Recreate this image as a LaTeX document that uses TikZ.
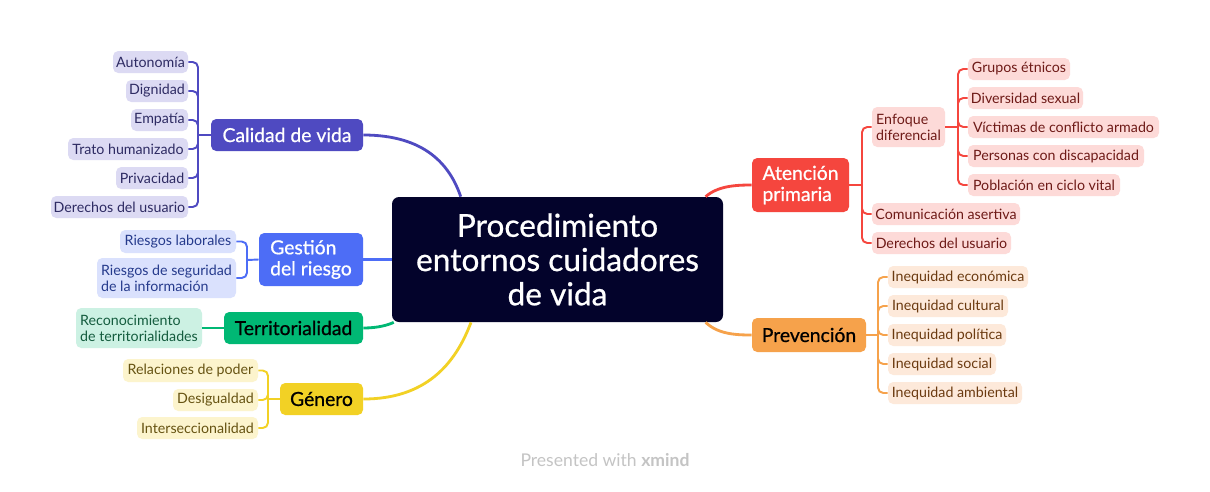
\documentclass[tikz,border=0pt]{standalone}
\usepackage{fontspec}
\setmainfont{Lato}
\newfontfamily\medfont{Lato}[FakeBold=0.7]
\definecolor{cen}{HTML}{03032B}
\definecolor{cq}{HTML}{4F4AC1}\definecolor{cql}{HTML}{DCDAF3}\definecolor{cqt}{HTML}{2E2B63}
\definecolor{gq}{HTML}{4D6DF6}\definecolor{gql}{HTML}{DAE1FD}\definecolor{gqt}{HTML}{253A8C}
\definecolor{tq}{HTML}{00B874}\definecolor{tql}{HTML}{CCF1E3}\definecolor{tqt}{HTML}{145C3E}
\definecolor{yq}{HTML}{F2D125}\definecolor{yql}{HTML}{FCF4CD}\definecolor{yqt}{HTML}{665312}
\definecolor{rq}{HTML}{F5463E}\definecolor{rql}{HTML}{FDDAD8}\definecolor{rqt}{HTML}{6E1A17}
\definecolor{oq}{HTML}{F6A24B}\definecolor{oql}{HTML}{FDE9DA}\definecolor{oqt}{HTML}{6B3A10}
\definecolor{wmg}{HTML}{C4C4C4}
\tikzset{
 bxy/.style n args={4}{minimum width={(#3-#1)*0.02cm}, minimum height={(#4-#2)*0.02cm}, at={({(#1+#3)/2},{(#2+#4)/2})}},
 leaf/.style={rounded corners=3pt, inner sep=0pt, font=\fontsize{8.1}{9}\selectfont, align=left},
 topic/.style={rounded corners=3pt, inner sep=0pt, font=\medfont\fontsize{11}{12}\selectfont, align=left},
 mainln/.style={line width=1.6pt},
 br/.style={line width=1.1pt, rounded corners=3pt},
}
\begin{document}
\begin{tikzpicture}[x=0.02cm,y=-0.02cm]
\useasboundingbox[fill=white] (0,0) rectangle (1210,491);
% central
\node[rounded corners=4pt, fill=cen, text=white, inner sep=0pt, align=center,
  font=\medfont\fontsize{18}{19.5}\selectfont, bxy={392}{197}{723}{322}] (c)
  {Procedimiento\\entornos cuidadores\\de vida};
% Calidad de vida
\node[topic, fill=cq, text=white, bxy={211}{119}{363}{151}] (cal) {Calidad de vida};
\node[leaf, fill=cql, text=cqt, bxy={113}{51}{188}{73}] (a1) {Autonomía};
\node[leaf, fill=cql, text=cqt, bxy={126}{80}{188}{102}] (a2) {Dignidad};
\node[leaf, fill=cql, text=cqt, bxy={131}{109}{188}{131}] (a3) {Empatía};
\node[leaf, fill=cql, text=cqt, bxy={68}{138}{188}{160}] (a4) {Trato humanizado};
\node[leaf, fill=cql, text=cqt, bxy={116}{167}{188}{189}] (a5) {Privacidad};
\node[leaf, fill=cql, text=cqt, bxy={51}{196}{188}{218}] (a6) {Derechos del usuario};
% Gestion
\node[topic, fill=gq, text=white, bxy={259}{233}{363}{286}] (ges) {Gestión\\del riesgo};
\node[leaf, fill=gql, text=gqt, bxy={120}{230}{236}{253}] (b1) {Riesgos laborales};
\node[leaf, fill=gql, text=gqt, bxy={97}{258}{236}{298}] (b2) {Riesgos de seguridad\\de la información};
% Territorialidad
\node[topic, fill=tq, text=black, bxy={224}{312}{363}{344}] (ter) {Territorialidad};
\node[leaf, fill=tql, text=tqt, bxy={76}{308}{202}{348}] (t1) {Reconocimiento\\de territorialidades};
% Genero
\node[topic, fill=yq, text=black, bxy={280}{383}{363}{415}] (gen) {Género};
\node[leaf, fill=yql, text=yqt, bxy={123}{359}{258}{382}] (g1) {Relaciones de poder};
\node[leaf, fill=yql, text=yqt, bxy={173}{389}{258}{411}] (g2) {Desigualdad};
\node[leaf, fill=yql, text=yqt, bxy={137}{417}{258}{439}] (g3) {Interseccionalidad};
% Atencion primaria
\node[topic, fill=rq, text=white, bxy={752}{158}{849}{212}] (ate) {Atención\\primaria};
\node[leaf, fill=rql, text=rqt, bxy={872}{107}{945}{147}] (e0) {Enfoque\\diferencial};
\node[leaf, fill=rql, text=rqt, bxy={872}{203}{1020}{225}] (e1) {Comunicación asertiva};
\node[leaf, fill=rql, text=rqt, bxy={872}{232}{1011}{254}] (e2) {Derechos del usuario};
\node[leaf, fill=rql, text=rqt, bxy={968}{58}{1070}{80}] (f1) {Grupos étnicos};
\node[leaf, fill=rql, text=rqt, bxy={968}{87}{1083}{109}] (f2) {Diversidad sexual};
\node[leaf, fill=rql, text=rqt, bxy={968}{116}{1159}{138}] (f3) {Víctimas de conflicto armado};
\node[leaf, fill=rql, text=rqt, bxy={968}{145}{1144}{167}] (f4) {Personas con discapacidad};
\node[leaf, fill=rql, text=rqt, bxy={968}{174}{1120}{196}] (f5) {Población en ciclo vital};
% Prevencion
\node[topic, fill=oq, text=black, bxy={752}{318}{866}{352}] (pre) {Prevención};
\node[leaf, fill=oql, text=oqt, bxy={888}{266}{1028}{288}] (p1) {Inequidad económica};
\node[leaf, fill=oql, text=oqt, bxy={888}{295}{1008}{317}] (p2) {Inequidad cultural};
\node[leaf, fill=oql, text=oqt, bxy={888}{324}{1006}{346}] (p3) {Inequidad política};
\node[leaf, fill=oql, text=oqt, bxy={888}{353}{996}{375}] (p4) {Inequidad social};
\node[leaf, fill=oql, text=oqt, bxy={888}{382}{1022}{404}] (p5) {Inequidad ambiental};
% main connectors
\draw[mainln, cq] (c.147) .. controls (450,165) and (425,135) .. (cal.east);
\draw[mainln, gq] (c.west) -- (ges.east);
\draw[mainln, tq] (c.201) .. controls (388,325) and (378,328) .. (ter.east);
\draw[mainln, yq] (c.216) .. controls (455,365) and (425,399) .. (gen.east);
\draw[mainln, rq] (c.23) .. controls (718,186) and (735,185) .. (ate.west);
\draw[mainln, oq] (c.337) .. controls (718,334) and (735,335) .. (pre.west);
% junctions
\coordinate (jc) at (198,135);
\coordinate (jg) at (247,260);
\coordinate (jy) at (268,399);
\coordinate (jr) at (862,185);
\coordinate (je) at (958,127);
\coordinate (jo) at (878,335);
% brackets
\draw[br, cq] (cal.west) -- (jc);
\foreach \n in {a1,a2,a3,a4,a5,a6} \draw[br, cq] (jc) |- (\n.east);
\draw[br, gq] (ges.west) -- (jg);
\foreach \n in {b1,b2} \draw[br, gq] (jg) |- (\n.east);
\draw[br, tq] (ter.west) -- (t1.east);
\draw[br, yq] (gen.west) -- (jy);
\foreach \n in {g1,g2,g3} \draw[br, yq] (jy) |- (\n.east);
\draw[br, rq] (ate.east) -- (jr);
\foreach \n in {e0,e1,e2} \draw[br, rq] (jr) |- (\n.west);
\draw[br, rq] (e0.east) -- (je);
\foreach \n in {f1,f2,f3,f4,f5} \draw[br, rq] (je) |- (\n.west);
\draw[br, oq] (pre.east) -- (jo);
\foreach \n in {p1,p2,p3,p4,p5} \draw[br, oq] (jo) |- (\n.west);
% watermark
\node[font=\fontsize{10}{11}\selectfont, text=wmg] (wm) at (605,460) {Presented with \textbf{xmind}};
\end{tikzpicture}
\end{document}
